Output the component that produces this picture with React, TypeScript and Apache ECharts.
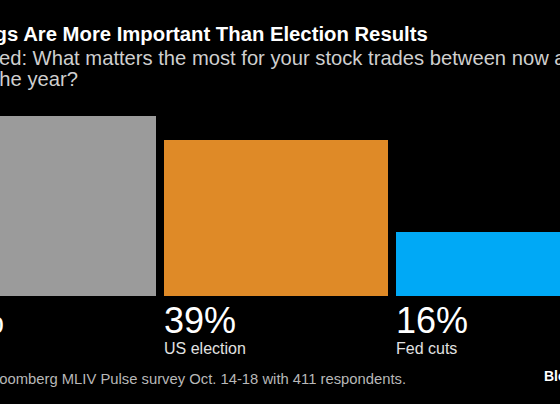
import React, { useEffect, useRef } from "react";
import * as echarts from "echarts";

const categories = ["Earnings", "US election", "Fed cuts"];
const shares = [45, 39, 16];
const barColors = ["#9b9b9b", "#df8a27", "#00a9f6"];

const titleText = "Earnings Are More Important Than Election Results";
const subtitleText =
  "We asked: What matters the most for your stock trades between now and the\nend of the year?";
const footerText = "Source: Bloomberg MLIV Pulse survey Oct. 14-18 with 411 respondents.";
const logoText = "Bloomberg";

const FONT = '"Liberation Sans", Arial, Helvetica, sans-serif';

export default function App() {
  const ref = useRef<HTMLDivElement>(null);

  useEffect(() => {
    if (!ref.current) return;
    const chart = echarts.init(ref.current, null, { renderer: "svg" });
    chart.setOption({
      animation: false,
      backgroundColor: "#000000",
      grid: { left: 8, right: 16, top: 96, bottom: 108 },
      xAxis: {
        type: "category",
        data: categories,
        show: false,
      },
      yAxis: { type: "value", min: 0, max: 50, show: false },
      series: [
        {
          type: "bar",
          barWidth: 224,
          data: shares.map((v, i) => ({ value: v, itemStyle: { color: barColors[i] } })),
          label: {
            show: true,
            position: [0, "100%"],
            align: "left",
            verticalAlign: "top",
            offset: [0, 4],
            fontFamily: FONT,
            formatter: (p: any) => `{v|${p.value}%}\n{n|${p.name}}`,
            rich: {
              v: { fontSize: 36, lineHeight: 40, color: "#ffffff", fontFamily: FONT },
              n: { fontSize: 16, lineHeight: 16, color: "#e2e2e2", fontFamily: FONT },
            },
          },
        },
      ],
      graphic: [
        {
          type: "text",
          x: 11.5,
          y: 24,
          style: {
            text: titleText,
            fill: "#ffffff",
            fontFamily: FONT,
            fontWeight: "bold",
            fontSize: 20.3,
            lineHeight: 20,
            verticalAlign: "top",
          },
        },
        {
          type: "text",
          x: 12,
          y: 47,
          style: {
            text: subtitleText,
            fill: "#cfcfcf",
            fontFamily: FONT,
            fontSize: 20.2,
            lineHeight: 21,
            verticalAlign: "top",
          },
        },
        {
          type: "text",
          x: 11,
          y: 371,
          style: {
            text: footerText,
            fill: "#b8b8b8",
            fontFamily: FONT,
            fontSize: 14.8,
            lineHeight: 15,
            verticalAlign: "top",
          },
        },
        {
          type: "text",
          x: 624,
          y: 369,
          style: {
            text: logoText,
            fill: "#ffffff",
            fontFamily: FONT,
            fontWeight: "bold",
            fontSize: 14,
            lineHeight: 14,
            verticalAlign: "top",
          },
        },
      ],
    });
    return () => chart.dispose();
  }, []);

  return (
    <div
      style={{
        position: "fixed",
        left: 0,
        top: 0,
        width: 560,
        height: 404,
        overflow: "hidden",
        background: "#000000",
      }}
    >
      <div
        ref={ref}
        style={{ position: "absolute", left: -80, top: 0, width: 720, height: 404 }}
      />
    </div>
  );
}
